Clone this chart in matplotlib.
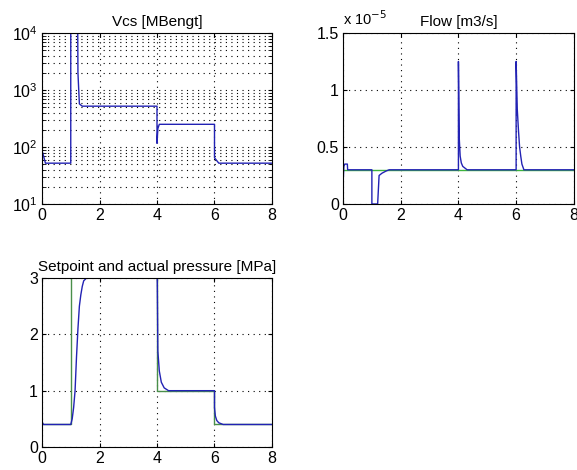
import matplotlib

matplotlib.use("Agg")
import matplotlib.pyplot as plt
from matplotlib.ticker import LogLocator, NullFormatter

# Vcs [MBengt] (log scale)
vcs_t = [0.0, 0.02, 0.12, 1.0, 1.0, 1.24, 1.25, 1.30, 1.40, 4.0, 4.0, 4.03, 4.08, 6.0, 6.0, 6.05, 6.15, 8.0]
vcs_v = [83, 80, 52, 52, 20000, 20000, 2000, 570, 520, 520, 116, 210, 250, 250, 65, 60, 52, 52]

# Flow [m3/s], in units of 1e-5
flow_t = [0.0, 0.03, 0.06, 0.15, 0.16, 1.0, 1.0, 1.2, 1.25, 1.35, 1.5, 1.6, 4.0, 4.0, 4.03, 4.06, 4.1, 4.15, 4.3,
          6.0, 6.0, 6.04, 6.08, 6.12, 6.16, 6.2, 6.27, 8.0]
flow_v = [0.18, 0.33, 0.35, 0.35, 0.3, 0.3, 0.0, 0.0, 0.25, 0.27, 0.29, 0.3, 0.3, 1.25, 0.57, 0.42, 0.36, 0.33, 0.3,
          0.3, 1.25, 0.83, 0.65, 0.5, 0.42, 0.35, 0.3, 0.3]
flow_ref_t = [0.0, 8.0]
flow_ref_v = [0.3, 0.3]

# Setpoint and actual pressure [MPa]
sp_t = [0.0, 1.0, 1.0, 4.0, 4.0, 6.0, 6.0, 8.0]
sp_v = [0.4, 0.4, 3.5, 3.5, 1.0, 1.0, 0.4, 0.4]
p_t = [0.0, 0.05, 1.0, 1.05, 1.1, 1.15, 1.2, 1.25, 1.3, 1.35, 1.4, 1.45, 1.55, 4.0, 4.0, 4.03, 4.08, 4.15,
       4.25, 4.4, 6.0, 6.0, 6.03, 6.08, 6.15, 6.3, 8.0]
p_v = [0.45, 0.4, 0.4, 0.5, 0.7, 1.0, 1.6, 2.1, 2.5, 2.7, 2.85, 2.95, 3.0, 3.5, 3.5, 1.7, 1.35, 1.15,
       1.05, 1.0, 1.0, 0.7, 0.55, 0.47, 0.43, 0.4, 0.4]

BLUE = "#2222b4"
GREEN_FLOW = "#3cb43c"
GREEN_P = "#4a8f4a"
XTICKS = [0, 2, 4, 6, 8]

plt.rcParams["font.family"] = ["Liberation Sans", "DejaVu Sans"]
plt.rcParams["font.size"] = 11


def style_axis(ax):
    ax.set_xlim(0, 8)
    ax.set_xticks(XTICKS)
    ax.tick_params(direction="in", which="both", top=True, right=True, labelsize=11.5, length=3, pad=3)
    ax.grid(True, which="major", linestyle=(0, (1, 4)), color="black", linewidth=0.8)
    for spine in ax.spines.values():
        spine.set_linewidth(0.8)


fig = plt.figure(figsize=(5.77, 4.70), dpi=100)

ax1 = fig.add_axes([0.0728, 0.566, 0.3986, 0.3638])
ax1.plot(vcs_t, vcs_v, color=BLUE, linewidth=1.0)
ax1.set_yscale("log")
ax1.set_ylim(10, 1e4)
ax1.yaxis.set_major_locator(LogLocator(base=10, numticks=5))
ax1.yaxis.set_minor_locator(LogLocator(base=10, subs=range(2, 10), numticks=20))
ax1.yaxis.set_minor_formatter(NullFormatter())
style_axis(ax1)
ax1.grid(True, which="minor", axis="y", linestyle=(0, (1, 4)), color="black", linewidth=0.8)
ax1.set_title("Vcs [MBengt]", fontsize=11, pad=5)

ax2 = fig.add_axes([0.5945, 0.566, 0.400, 0.3638])
ax2.plot(flow_ref_t, flow_ref_v, color=GREEN_FLOW, linewidth=1.0)
ax2.plot(flow_t, flow_v, color=BLUE, linewidth=1.0)
ax2.set_ylim(0, 1.5)
ax2.set_yticks([0, 0.5, 1, 1.5])
ax2.set_yticklabels(["0", "0.5", "1", "1.5"])
style_axis(ax2)
ax2.set_title("Flow [m3/s]", fontsize=11, pad=5)
ax2.text(0.0, 1.03, r"x 10$^{-5}$", transform=ax2.transAxes, fontsize=10.5, ha="left", va="bottom")

ax3 = fig.add_axes([0.0728, 0.0489, 0.3986, 0.3596])
ax3.plot(sp_t, sp_v, color=GREEN_P, linewidth=1.0)
ax3.plot(p_t, p_v, color=BLUE, linewidth=1.0)
ax3.set_ylim(0, 3)
ax3.set_yticks([0, 1, 2, 3])
style_axis(ax3)
ax3.set_title("Setpoint and actual pressure [MPa]", fontsize=11, pad=5)

fig.savefig("out.png", dpi=100)
